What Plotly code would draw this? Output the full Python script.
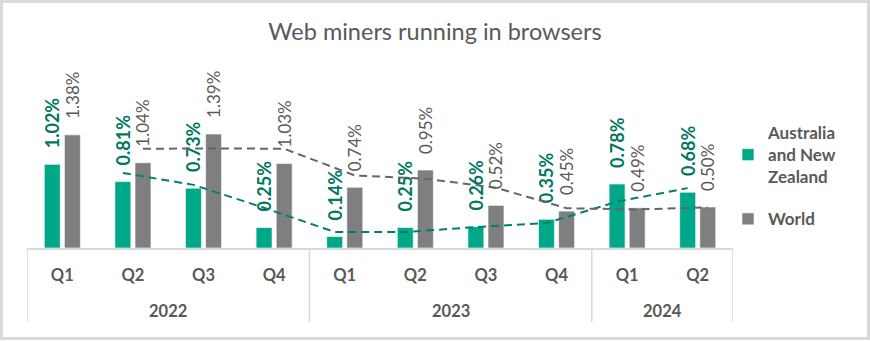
import numpy as np
import plotly.graph_objects as go

# ---- data -------------------------------------------------------------
quarters = ["Q1", "Q2", "Q3", "Q4", "Q1", "Q2", "Q3", "Q4", "Q1", "Q2"]
years = ["2022", "2022", "2022", "2022", "2023", "2023", "2023", "2023", "2024", "2024"]
anz = [1.02, 0.81, 0.73, 0.25, 0.14, 0.25, 0.26, 0.35, 0.78, 0.68]
world = [1.38, 1.04, 1.39, 1.03, 0.74, 0.95, 0.52, 0.45, 0.49, 0.50]

# ---- styling ----------------------------------------------------------
FONT = "Lato"
TEAL = "#00a88a"
TEAL_DARK = "#00785f"
GREY = "#7f7f7f"
GREY_TEXT = "#595959"
AXIS_LINE = "#d9d9d9"

W, H = 870, 341
ML, MR, MT, MB = 27, 137, 60, 93
PW, PH = W - ML - MR, H - MT - MB

BAR_W = 0.226
OFF_ANZ = -0.255
OFF_WORLD = 0.03

idx = np.arange(len(quarters))


def moving_avg(v, n=2):
    v = np.asarray(v, dtype=float)
    return np.convolve(v, np.ones(n) / n, mode="valid")


fig = go.Figure()

label_pad = "\u00a0\u00a0\u00a0"

fig.add_bar(
    x=idx, y=anz, name="Australia<br>and New<br>Zealand",
    width=BAR_W, offset=OFF_ANZ,
    marker=dict(color=TEAL, line=dict(color="white", width=0.6)),
    texttemplate=label_pad + "%{y:.2f}%", textposition="outside", textangle=-90,
    textfont=dict(family=FONT, size=18, color=TEAL_DARK, weight="bold"),
    constraintext="none", cliponaxis=False, legendgroup="a",
)
fig.add_bar(
    x=idx, y=world, name="World",
    width=BAR_W, offset=OFF_WORLD,
    marker=dict(color=GREY, line=dict(color="white", width=0.6)),
    texttemplate=label_pad + "%{y:.2f}%", textposition="outside", textangle=-90,
    textfont=dict(family=FONT, size=17, color=GREY_TEXT),
    constraintext="none", cliponaxis=False, legendgroup="b",
)

# two-period moving-average trendlines, drawn through each series' bar centres
for vals, off, col in [(anz, OFF_ANZ, "#00806a"), (world, OFF_WORLD, "#666666")]:
    fig.add_scatter(
        x=idx[1:] + off + BAR_W / 2, y=moving_avg(vals),
        mode="lines", line=dict(color=col, width=2, dash="8px,5px"),
        showlegend=False, hoverinfo="skip",
    )

# year group labels and the category box
groups = []
for i, y in enumerate(years):
    if not groups or groups[-1][0] != y:
        groups.append([y, i, i])
    else:
        groups[-1][2] = i

box_bottom = -74 / PH
for name, a, b in groups:
    fig.add_annotation(
        x=(a + b) / 2, y=-63 / PH, xref="x", yref="paper", text=name,
        yanchor="middle", xanchor="center",
        showarrow=False, font=dict(family=FONT, size=16.5, color=GREY_TEXT, weight="bold"),
    )
edges = [groups[0][1] - 0.5] + [g[2] + 0.5 for g in groups]
for e in edges:
    fig.add_shape(type="line", xref="x", yref="paper", x0=e, x1=e, y0=0, y1=box_bottom,
                  line=dict(color=AXIS_LINE, width=1.5))

# chart-area border
fig.add_shape(type="rect", xref="paper", yref="paper",
              x0=(-ML + 1.5) / PW, x1=1 + (MR - 1.5) / PW,
              y0=(-MB + 2.5) / PH, y1=1 + (MT - 1.5) / PH,
              line=dict(color=AXIS_LINE, width=3))

fig.update_layout(
    width=W, height=H,
    margin=dict(l=ML, r=MR, t=MT, b=MB),
    paper_bgcolor="white", plot_bgcolor="white",
    barmode="overlay",
    title=dict(text="Web miners running in browsers", x=0.5, xref="container",
               y=1 - 32 / H, yanchor="middle", xanchor="center",
               font=dict(family=FONT, size=23.5, color=GREY_TEXT)),
    xaxis=dict(
        range=[-0.5, len(quarters) - 0.5], tickmode="array", tickvals=idx, ticktext=quarters,
        showgrid=False, zeroline=False, showline=True, linecolor=AXIS_LINE, linewidth=1.5,
        ticks="", ticklabelstandoff=11,
        tickfont=dict(family=FONT, size=16.5, color=GREY_TEXT, weight="bold"),
    ),
    yaxis=dict(range=[0, PH / 82.0], visible=False, fixedrange=True),
    legend=dict(
        x=(728 - ML) / PW, xanchor="left", y=(248 - 115) / PH, yanchor="top",
        font=dict(family=FONT, size=17, color=GREY_TEXT, weight="bold"),
        tracegroupgap=17, bgcolor="rgba(0,0,0,0)",
    ),
    showlegend=True,
)

fig.write_html("out.html")
